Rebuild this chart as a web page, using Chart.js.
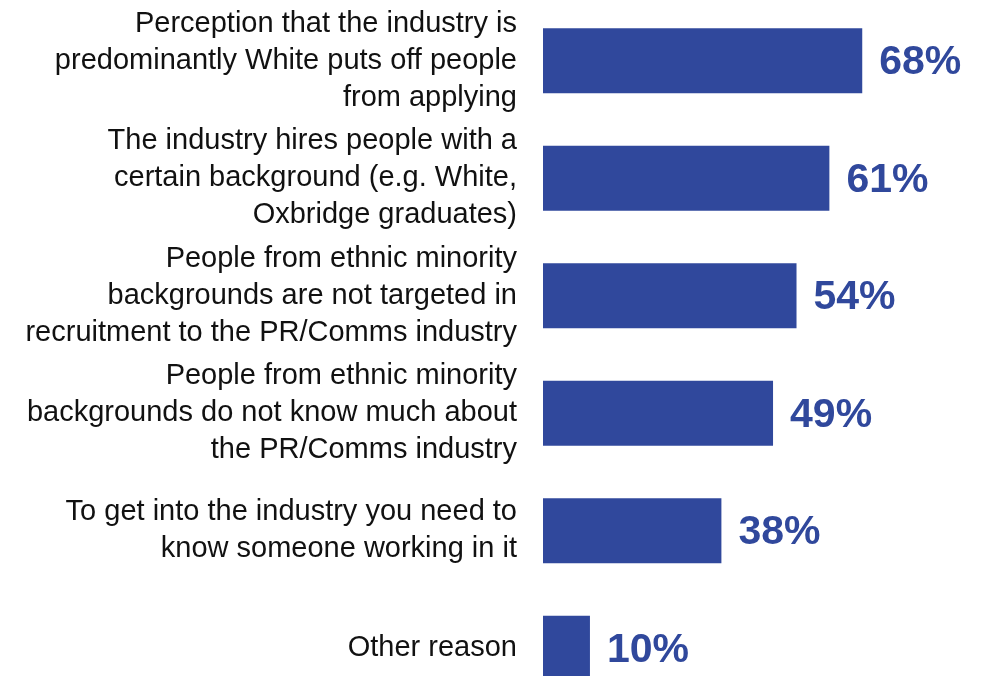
<!DOCTYPE html>
<html>
<head>
<meta charset="utf-8">
<script src="https://cdn.jsdelivr.net/npm/chart.js@4.4.1/dist/chart.umd.min.js"></script>
<style>
	html, body { margin: 0; padding: 0; background: #fff; overflow: hidden; }
	.reasons-chart-wrapper { width: 989px; height: 676px; overflow: hidden; }
</style>
</head>
<body>
<div class="reasons-chart-wrapper">
	<canvas id="reasons-chart" width="989" height="707"></canvas>
</div>
<script>
var reasons = [
	['Perception that the industry is', 'predominantly White puts off people', 'from applying'],
	['The industry hires people with a', 'certain background (e.g. White,', 'Oxbridge graduates)'],
	['People from ethnic minority', 'backgrounds are not targeted in', 'recruitment to the PR/Comms industry'],
	['People from ethnic minority', 'backgrounds do not know much about', 'the PR/Comms industry'],
	['To get into the industry you need to', 'know someone working in it'],
	'Other reason'
];
var percentages = [68, 61, 54, 49, 38, 10];

var barColour = '#30489c';

// writes the percentage just past the end of each bar
var valueLabels = {
	id: 'valueLabels',
	afterDatasetsDraw: function(chart) {
		var ctx = chart.ctx;
		var meta = chart.getDatasetMeta(0);
		ctx.save();
		ctx.font = 'bold 41px "Liberation Sans", Arial, sans-serif';
		ctx.fillStyle = barColour;
		ctx.textAlign = 'left';
		ctx.textBaseline = 'middle';
		meta.data.forEach(function(bar, i) {
			ctx.fillText(percentages[i] + '%', bar.x + 17, bar.y + 2);
		});
		ctx.restore();
	}
};

Chart.defaults.font.family = '"Liberation Sans", Arial, sans-serif';

var ctx = document.getElementById('reasons-chart').getContext('2d');
var myChart = new Chart(ctx, {
	type: 'bar',
	data: {
		labels: reasons,
		datasets: [
			{
				data: percentages,
				backgroundColor: barColour,
				borderWidth: 0,
				barPercentage: 0.553,
				categoryPercentage: 1
			}
		]
	},
	options: {
		indexAxis: 'y',
		responsive: false,
		animation: false,
		layout: {
			padding: { top: 2, right: 0, bottom: 0, left: 0 }
		},
		plugins: {
			legend: { display: false },
			tooltip: { enabled: false }
		},
		scales: {
			x: {
				display: false,
				min: 0,
				max: 95
			},
			y: {
				afterFit: function(scale) {
					// fixed axis width, and no extra room for the tall multi-line labels
					scale.width = 543;
					scale.paddingTop = 0;
					scale.paddingBottom = 0;
				},
				grid: { display: false, drawTicks: false },
				border: { display: false },
				ticks: {
					padding: 26,
					color: '#111',
					font: { size: 29, lineHeight: 1.276 }
				}
			}
		}
	},
	plugins: [valueLabels]
});
</script>
</body>
</html>
